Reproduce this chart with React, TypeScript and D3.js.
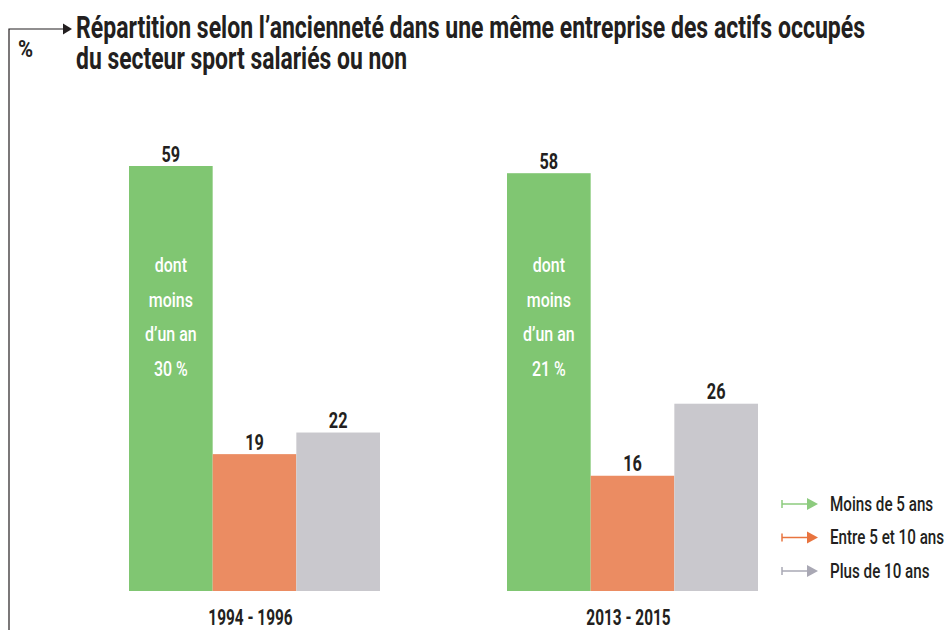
import React from "react";
import * as d3 from "d3";

const periods = ["1994 - 1996", "2013 - 2015"];
const seriesNames = ["Moins de 5 ans", "Entre 5 et 10 ans", "Plus de 10 ans"];
const moinsDe5 = [59, 58];
const entre5et10 = [19, 16];
const plusDe10 = [22, 26];
const moinsDunAn = ["30 %", "21 %"];
const titleLines = [
  "Répartition selon l’ancienneté dans une même entreprise des actifs occupés",
  "du secteur sport salariés ou non",
];
const barColors = ["#80c672", "#eb8c62", "#c9c8cd"];
const legendColors = ["#8dcb7e", "#e8743f", "#a9a8b4"];

const W = 951;
const H = 630;
const FONT = "Roboto, 'Liberation Sans', sans-serif";
const INK = "#231f20";

function CText({ x, y, size, anchor = "start", fill = INK, weight = 700, sx = 0.72, children }: any) {
  return (
    <text
      transform={`translate(${x},${y}) scale(${sx},1)`}
      fontSize={size}
      fontFamily={FONT}
      fontWeight={weight}
      fill={fill}
      textAnchor={anchor}
    >
      {children}
    </text>
  );
}

export default function App() {
  const values = [moinsDe5, entre5et10, plusDe10];
  const x0 = d3.scaleBand<string>().domain(periods).range([129, 758]).paddingInner(127 / 378);
  const x1 = d3.scaleBand<string>().domain(seriesNames).range([0, x0.bandwidth()]);
  const y = d3.scaleLinear().domain([0, 59]).range([591, 166]);

  return (
    <svg width={W} height={H} style={{ position: "absolute", left: 0, top: 0 }}>
      {/* frame */}
      <path d={`M9,${H} V29 H63`} fill="none" stroke={INK} strokeWidth={1.2} />
      <path d="M63,23.5 L72,29 L63,34.5 Z" fill={INK} />
      <CText x={18} y={57} size={24} sx={0.85} weight={700}>%</CText>

      {/* title */}
      {titleLines.map((t, i) => (
        <text
          key={i}
          x={76}
          y={38 + i * 31}
          fontSize={31}
          fontFamily={FONT}
          fontWeight={700}
          fill={INK}
          textLength={i === 0 ? 789 : 331}
          lengthAdjust="spacingAndGlyphs"
        >
          {t}
        </text>
      ))}

      {/* bars */}
      {periods.map((p, pi) => (
        <g key={p} transform={`translate(${x0(p)},0)`}>
          {seriesNames.map((s, si) => {
            const v = values[si][pi];
            const bx = x1(s)!;
            const bw = x1.bandwidth();
            return (
              <g key={s}>
                <rect x={bx} y={y(v)} width={bw} height={y(0) - y(v)} fill={barColors[si]} />
                <CText x={bx + bw / 2} y={y(v) - 4.5} size={22} anchor="middle" weight={700} sx={0.74}>{v}</CText>
              </g>
            );
          })}
          {["dont", "moins", "d’un an", moinsDunAn[pi]].map((t, li) => (
            <CText key={li} x={x1(seriesNames[0])! + x1.bandwidth() / 2} y={272 + li * 34.7} size={21} anchor="middle" fill="#ffffff" weight={500} sx={0.76}>
              {t}
            </CText>
          ))}
          <CText x={x0.bandwidth() / 2 - 4} y={625} size={22} anchor="middle" weight={700} sx={0.7}>{p}</CText>
        </g>
      ))}

      {/* legend */}
      {seriesNames.map((s, i) => {
        const ly = 504 + i * 33.5;
        return (
          <g key={s}>
            <line x1={782} x2={782} y1={ly - 4} y2={ly + 4} stroke={legendColors[i]} strokeWidth={1.5} />
            <line x1={782} x2={808} y1={ly} y2={ly} stroke={legendColors[i]} strokeWidth={1.5} />
            <path d={`M807,${ly - 6} L818,${ly} L807,${ly + 6} Z`} fill={legendColors[i]} />
            <CText x={830} y={ly + 6.5} size={20} weight={500} sx={0.76}>{s}</CText>
          </g>
        );
      })}
    </svg>
  );
}
